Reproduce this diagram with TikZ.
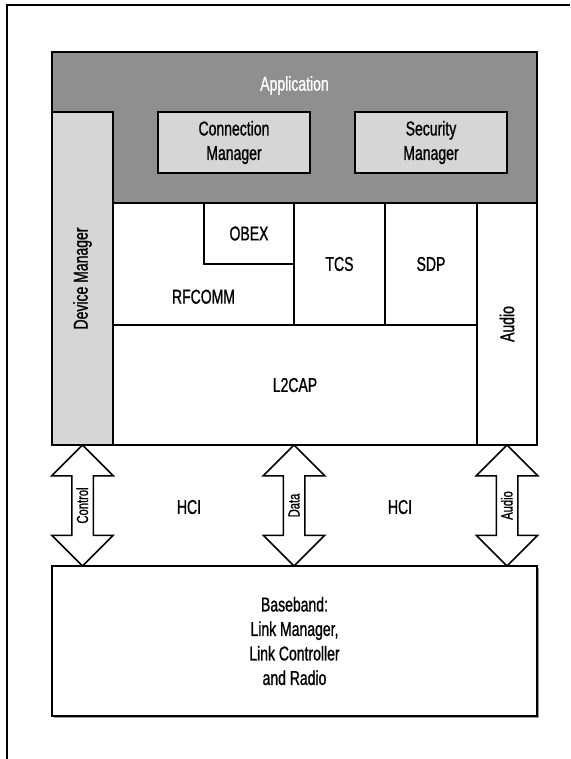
\documentclass[tikz,border=0pt]{standalone}
\usepackage{fontspec}
\setmainfont{Liberation Sans}[FakeStretch=0.7,FakeBold=1]
\usepackage{tikz}
\usetikzlibrary{positioning,shapes.arrows,shadows}
\definecolor{appgray}{HTML}{8F8F8F}
\definecolor{mgrgray}{HTML}{D6D6D6}

\begin{document}
\begin{tikzpicture}
  [x=1pt,y=-1pt,
   b/.style={rectangle,draw,line width=1.5pt,inner sep=0pt,outer sep=0pt,fill=white,
     align=center,font=\fontsize{20}{24.5}\selectfont},
   t/.style={inner sep=0pt,font=\fontsize{20}{24.5}\selectfont},
   d/.style={double arrow,draw,line width=1.5pt,fill=white,rotate=90,minimum height=121pt,
     double arrow head extend=20pt,inner xsep=0pt,inner ysep=3.5pt,text height=12pt,
     text depth=1pt,font=\fontsize{16}{18}\selectfont}]
  \useasboundingbox (0,0) rectangle (570,759);
  \draw[line width=1.2pt] (570,5) -- (7,5) -- (7,759);
  \node[b,fill=appgray,minimum width=485,minimum height=151,anchor=north west](app) at (52,52) {};
  \node[t,text=white,below=24pt of app.north](apptxt) {Application};
  \node[b,fill=mgrgray,minimum width=152,minimum height=61,anchor=north west](conmgr) at (158,112) {Connection\\Manager};
  \node[b,fill=mgrgray,minimum width=152,minimum height=61,anchor=north west](secmgr) at (355,112) {Security\\Manager};
  \node[b,fill=mgrgray,rotate=90,minimum width=333,minimum height=61](devmgr) at (82.5,278.5) {Device Manager};
  \node[b,minimum width=181,minimum height=122,anchor=north west](rfcomm) at (113,203) {};
  \node[t,above=21pt of rfcomm.south](rftxt) {RFCOMM};
  \node[b,minimum width=90,minimum height=61,anchor=north east](obex) at (rfcomm.north east) {OBEX};
  \node[b,minimum width=91,minimum height=122,right=0pt of rfcomm](tcs) {TCS};
  \node[b,minimum width=92,minimum height=122,right=0pt of tcs](sdp) {SDP};
  \node[b,minimum width=364,minimum height=120,below right=0pt and 0pt of rfcomm.south west](l2cap) {L2CAP};
  \node[b,rotate=90,minimum width=242,minimum height=60](audio) at (507,324) {Audio};
  \node[b,minimum width=485,minimum height=150,anchor=north west,
    drop shadow={shadow xshift=1.5pt,shadow yshift=-1.5pt,fill=black!40,opacity=1}](base) at (52,566)
    {Baseband:\\Link Manager,\\Link Controller\\and Radio};
  \node[d](ctl) at (82.5,505.5) {Control};
  \node[d](data) at (294,505.5) {Data};
  \node[d](aud) at (507,505.5) {Audio};
  \node[t](hcia) at (189,507) {HCI};
  \node[t](hcib) at (400,507) {HCI};
\end{tikzpicture}
\end{document}
